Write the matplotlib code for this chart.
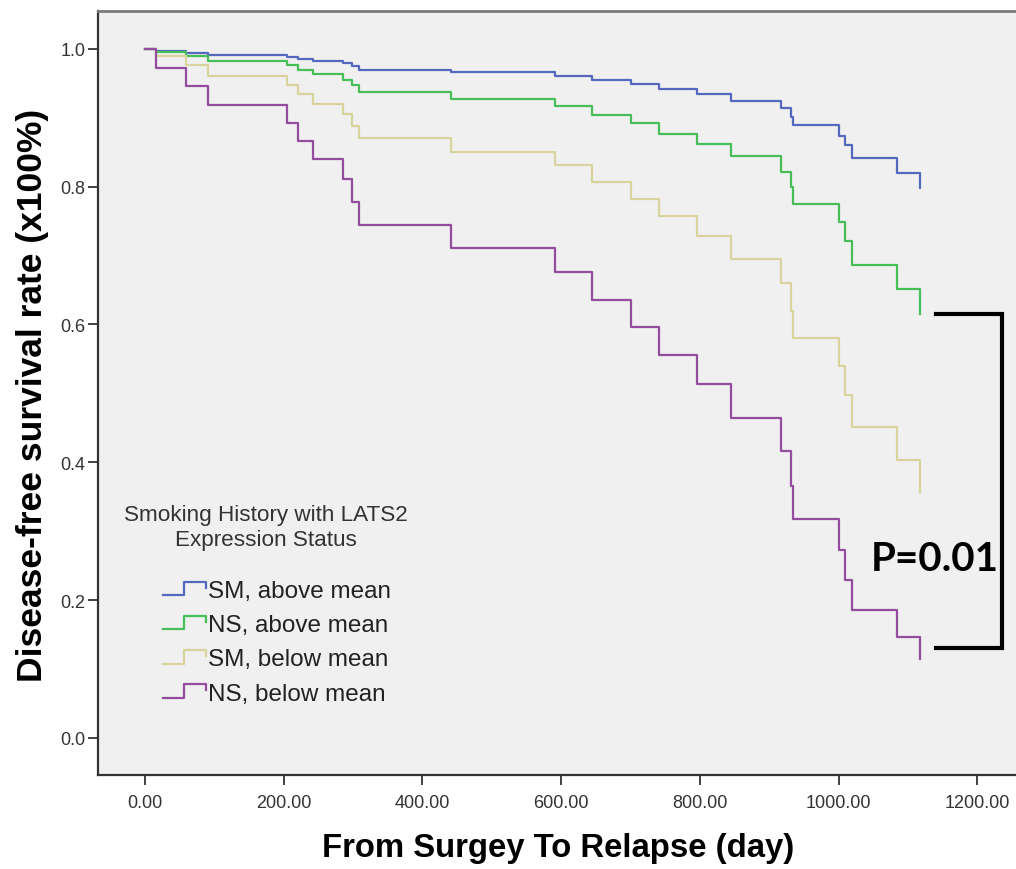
import matplotlib
matplotlib.use('Agg')
import matplotlib.pyplot as plt
from matplotlib.lines import Line2D
from matplotlib.legend_handler import HandlerLine2D

# tempos dos degraus (dias) e sobrevida de cada grupo
dias = [0, 15, 59, 90, 205, 220, 242, 285, 299, 309, 441, 591, 645, 701, 741,
        796, 845, 917, 932, 935, 1000, 1010, 1019, 1085, 1117]
sm_acima = [1.0, 0.997, 0.994, 0.991, 0.988, 0.985, 0.982, 0.979, 0.975, 0.970,
            0.966, 0.961, 0.955, 0.949, 0.942, 0.935, 0.925, 0.914, 0.901, 0.889,
            0.874, 0.860, 0.841, 0.820, 0.798]
ns_acima = [1.0, 0.995, 0.989, 0.982, 0.976, 0.969, 0.963, 0.955, 0.947, 0.937,
            0.927, 0.917, 0.904, 0.892, 0.877, 0.862, 0.844, 0.822, 0.799, 0.775,
            0.749, 0.721, 0.687, 0.652, 0.615]
sm_abaixo = [1.0, 0.989, 0.976, 0.961, 0.948, 0.934, 0.920, 0.906, 0.888, 0.870,
             0.851, 0.831, 0.807, 0.782, 0.758, 0.728, 0.695, 0.660, 0.620, 0.580,
             0.539, 0.498, 0.451, 0.403, 0.355]
ns_abaixo = [1.0, 0.972, 0.946, 0.919, 0.893, 0.866, 0.840, 0.811, 0.778, 0.745,
             0.711, 0.676, 0.636, 0.596, 0.555, 0.513, 0.464, 0.417, 0.366, 0.318,
             0.273, 0.229, 0.186, 0.146, 0.114]
grupos = ['SM, above mean', 'NS, above mean', 'SM, below mean', 'NS, below mean']
cores = ['#5468C0', '#48BE58', '#D9D49E', '#934C9E']
xticks = [0, 200, 400, 600, 800, 1000, 1200]
yticks = [0.0, 0.2, 0.4, 0.6, 0.8, 1.0]

plt.rcParams['font.family'] = ['Liberation Sans', 'DejaVu Sans']


class HandlerDegrau(HandlerLine2D):
    # icone de legenda em forma de degrau, como no SPSS
    def create_artists(self, legend, orig_handle, xdescent, ydescent,
                       width, height, fontsize, trans):
        x0, y0 = -xdescent, -ydescent
        xs = [x0, x0 + 0.5 * width, x0 + 0.5 * width, x0 + width, x0 + width]
        ys = [y0 + 0.1 * height, y0 + 0.1 * height, y0 + 0.9 * height,
              y0 + 0.9 * height, y0 + 0.55 * height]
        ln = Line2D(xs, ys, color=orig_handle.get_color(),
                    linewidth=orig_handle.get_linewidth(), transform=trans)
        return [ln]


fig = plt.figure(figsize=(10.16, 8.7), dpi=100)
ax = fig.add_axes([98 / 1016, 94 / 870, 918 / 1016, 764 / 870])
ax.set_facecolor('#F0F0F0')

linhas = []
for serie, cor, nome in zip([sm_acima, ns_acima, sm_abaixo, ns_abaixo], cores, grupos):
    l, = ax.step(dias, serie, where='post', color=cor, linewidth=1.6, label=nome)
    linhas.append(l)

ax.set_xlim(-68, 1256)
ax.set_ylim(-0.054, 1.055)
ax.set_xticks(xticks)
ax.set_xticklabels(['%.2f' % v for v in xticks])
ax.set_yticks(yticks)
ax.set_yticklabels(['%.1f' % v for v in yticks])
ax.tick_params(axis='both', direction='out', length=7, width=1.3, colors='#333333',
               labelsize=13)
ax.tick_params(axis='x', pad=7)
ax.tick_params(axis='y', pad=2)

ax.spines['right'].set_visible(False)
ax.spines['top'].set_color('#7A7A7A')
ax.spines['top'].set_linewidth(2)
for s in ['left', 'bottom']:
    ax.spines[s].set_color('#333333')
    ax.spines[s].set_linewidth(1.6)

fig.text(33 / 1016, 1 - 395 / 870, 'Disease-free survival rate (x100%)', rotation=90,
         ha='center', va='center', fontsize=25.5, fontweight='bold')
fig.text(558 / 1016, 1 - 849 / 870, 'From Surgey To Relapse (day)',
         ha='center', va='center', fontsize=23.7, fontweight='bold')

# titulo da legenda centralizado, a parte
fig.text(266 / 1016, 1 - 528 / 870, 'Smoking History with LATS2\nExpression Status',
         ha='center', va='center', multialignment='center', fontsize=16.2,
         color='#333333', linespacing=1.25)
leg = ax.legend(handles=linhas, loc='upper left', bbox_to_anchor=(163 / 1016, 1 - 581 / 870),
                bbox_transform=fig.transFigure, frameon=False, fontsize=17.5,
                borderpad=0, borderaxespad=0, handlelength=1.75, handletextpad=0.1,
                labelspacing=0.5, handler_map={Line2D: HandlerDegrau()})
for t in leg.get_texts():
    t.set_color('#222222')

# colchete com o valor de p
bx0, bx1 = 1141, 1236
by0, by1 = 0.615, 0.131
ax.plot([bx0, bx1, bx1, bx0], [by0, by0, by1, by1], color='black', linewidth=3,
        clip_on=False, solid_joinstyle='miter')
ax.text(1139, 0.26, 'P=0.01', ha='center', va='center', fontsize=29,
        fontweight='bold', family=['Lato', 'DejaVu Sans'])

fig.savefig('out.png', dpi=100, facecolor='white')
